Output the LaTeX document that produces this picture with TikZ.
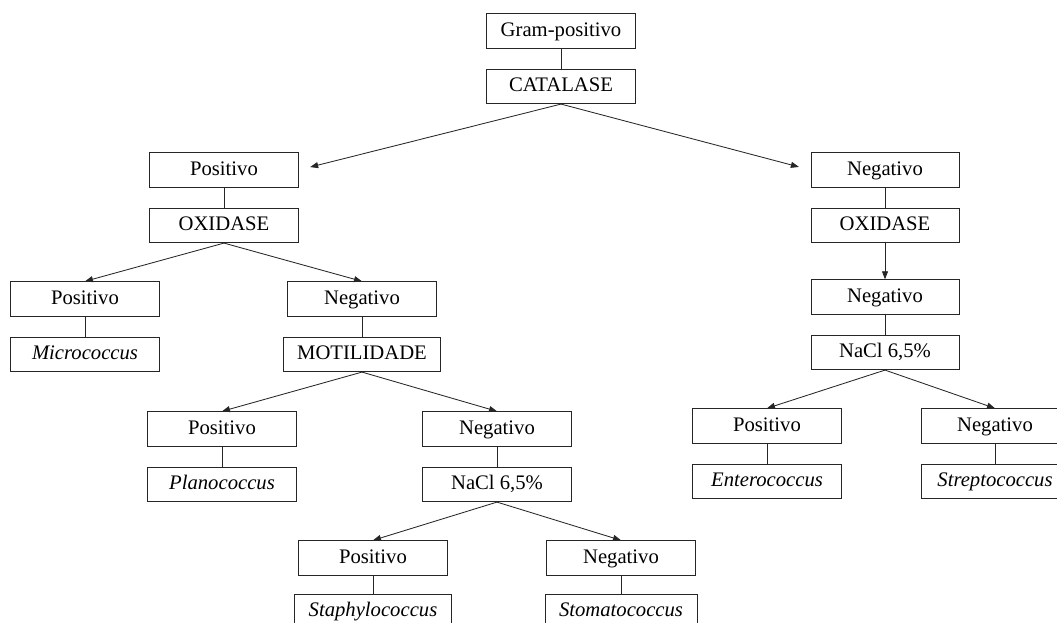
\documentclass[tikz,border=0pt]{standalone}
\usepackage{fontspec}
\setmainfont{Liberation Serif}
\usetikzlibrary{arrows.meta, positioning}

\begin{document}
\begin{tikzpicture}[
    x=0.025cm, y=-0.025cm,
    node distance=0.5cm,
    box/.style={draw=black!85, line width=0.7pt, minimum width=3.7cm, minimum height=0.86cm,
                inner xsep=0.35cm, text height=2.1ex, text depth=0.45ex,
                font=\fontsize{14.7}{17}\selectfont},
    genus/.style={box, font=\fontsize{14.7}{17}\selectfont\itshape},
    every edge/.append style={line width=0.6pt, draw=black!85, -{Triangle[length=0.2cm, width=0.15cm]}}
]
   \clip (0,0) rectangle (1057,623);

   % Tests
   \node[box] (gram) at (561,31) {Gram-positivo};
   \node[box] (cat) [below=of gram] {CATALASE};

   \node[box] (posL) at (224,170) {Positivo};
   \node[box] (oxiL) [below=of posL] {OXIDASE};
   \node[box] (negR) at (885,170) {Negativo};
   \node[box] (oxiR) [below=of negR] {OXIDASE};

   \node[box] (posA) at (85,299) {Positivo};
   \node[genus] (micro) [below=of posA] {Micrococcus};
   \node[box] (negA) at (362,299) {Negativo};
   \node[box] (moti) [below=of negA] {MOTILIDADE};
   \node[box] (negB) at (885,297) {Negativo};
   \node[box] (naclR) [below=of negB] {NaCl 6,5\%};

   \node[box] (posC) at (222,429) {Positivo};
   \node[genus] (plano) [below=of posC] {Planococcus};
   \node[box] (negC) at (497,429) {Negativo};
   \node[box] (naclC) [below=of negC] {NaCl 6,5\%};
   \node[box] (posD) at (767,426) {Positivo};
   \node[genus] (entero) [below=of posD] {Enterococcus};
   \node[box] (negD) at (995,426) {Negativo};
   \node[genus] (strepto) [below=of negD] {Streptococcus};

   \node[box] (posE) at (373,558) {Positivo};
   \node[genus] (staph) [below=0.45cm of posE] {Staphylococcus};
   \node[box] (negE) at (621,558) {Negativo};
   \node[genus] (stomato) [below=0.45cm of negE] {Stomatococcus};

   % Results
   \path
   (cat.south) edge[shorten >=0.3cm] (posL.east)
   (cat.south) edge[shorten >=0.3cm] (negR.west)

   (oxiL.south) edge (posA.north)
   (oxiL.south) edge (negA.north)
   (oxiR.south) edge (negB.north)

   (moti.south) edge (posC.north)
   (moti.south) edge (negC.north)
   (naclR.south) edge (posD.north)
   (naclR.south) edge (negD.north)

   (naclC.south) edge (posE.north)
   (naclC.south) edge (negE.north);

   % Links
   \path[every edge/.append style={-}]
   (gram) edge (cat)
   (posL) edge (oxiL)
   (negR) edge (oxiR)
   (posA) edge (micro)
   (negA) edge (moti)
   (negB) edge (naclR)
   (posC) edge (plano)
   (negC) edge (naclC)
   (posD) edge (entero)
   (negD) edge (strepto)
   (posE) edge (staph)
   (negE) edge (stomato);
\end{tikzpicture}
\end{document}
